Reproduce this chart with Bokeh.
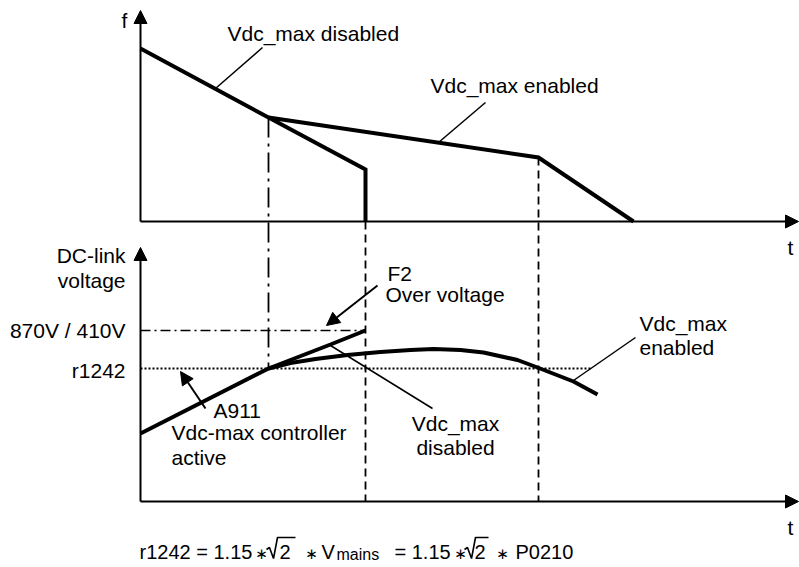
from bokeh.plotting import figure
from bokeh.models import Range1d, Arrow, NormalHead, Label
from bokeh.embed import file_html
from bokeh.resources import INLINE

# ---------------------------------------------------------------
# Data (time measured from the common origin of both panels)
# ---------------------------------------------------------------
# upper panel: output frequency f
f_disabled_t = [0, 128, 225, 225]
f_disabled_v = [173, 104, 52, 0]
f_enabled_t = [128, 398, 493]
f_enabled_v = [104, 64, 0]

# lower panel: DC-link voltage
v_rise_t = [0, 128]
v_rise_v = [68, 133]
v_disabled_t = [128, 190, 225]
v_disabled_v = [133, 157, 171]
v_enabled_t = [128, 150, 175, 207, 240, 270, 293, 320, 343, 377, 397, 433, 457]
v_enabled_v = [133, 138.5, 142.5, 146.5, 149.5, 151.5, 152.5, 151.5, 149, 141.5, 134, 120, 107]

V_TRIP = 171        # 870V / 410V
V_R1242 = 133       # r1242 threshold
T_ACTIVE = 128      # Vdc_max controller starts working
T_TRIP = 225        # F2 trip without controller
T_RAMP = 398        # end of extended ramp with controller

# ---------------------------------------------------------------
# Layout
# ---------------------------------------------------------------
W, H = 799, 567
ORIGIN_X = 140
TOP_BASE = 221      # canvas row of the f = 0 line
LOW_BASE = 501      # canvas row of the voltage = 0 line
PANEL_SHIFT = LOW_BASE - TOP_BASE
T_AXIS_END = 658
F_AXIS_TOP = 211
V_AXIS_TOP = 254
T_DOT_END = 450

FONT = "Liberation Sans"
BLACK = "#000000"

p = figure(width=W, height=H, output_backend="svg", toolbar_location=None,
           x_range=Range1d(-ORIGIN_X, W - ORIGIN_X),
           y_range=Range1d(TOP_BASE - H, TOP_BASE),
           x_axis_location=None, y_axis_location=None,
           min_border=0, outline_line_color=None,
           background_fill_color="white", border_fill_color="white")
p.grid.visible = False
p.extra_y_ranges = {"volt": Range1d(LOW_BASE - H, LOW_BASE), "page": Range1d(H, 0)}
p.extra_x_ranges = {"page": Range1d(0, W)}


def head(size=13):
    return NormalHead(size=size, fill_color=BLACK, line_color=BLACK, line_width=1)


# axes with arrow heads
p.add_layout(Arrow(end=head(), x_start=0, y_start=0, x_end=0, y_end=F_AXIS_TOP,
                   line_width=2, line_color=BLACK))
p.add_layout(Arrow(end=head(), x_start=0, y_start=0, x_end=T_AXIS_END, y_end=0,
                   line_width=2, line_color=BLACK))
p.add_layout(Arrow(end=head(), x_start=0, y_start=0, x_end=0, y_end=V_AXIS_TOP,
                   line_width=2, line_color=BLACK, y_range_name="volt"))
p.add_layout(Arrow(end=head(), x_start=0, y_start=0, x_end=T_AXIS_END, y_end=0,
                   line_width=2, line_color=BLACK, y_range_name="volt"))

# reference levels in the voltage panel
p.line([0, T_TRIP], [V_TRIP, V_TRIP], y_range_name="volt",
       line_color=BLACK, line_width=1.6, line_dash="10 4 2 4")
p.line([0, T_DOT_END], [V_R1242, V_R1242], y_range_name="volt",
       line_color=BLACK, line_width=1.8, line_dash="2 2")

# event markers running through both panels
p.line([T_ACTIVE, T_ACTIVE], [f_disabled_v[1] + PANEL_SHIFT, V_R1242], y_range_name="volt",
       line_color=BLACK, line_width=1.8, line_dash="20 6 3 6")
p.line([T_TRIP, T_TRIP], [PANEL_SHIFT, 0], y_range_name="volt",
       line_color=BLACK, line_width=1.8, line_dash="8 5")
p.line([T_RAMP, T_RAMP], [f_enabled_v[1] + PANEL_SHIFT, 0], y_range_name="volt",
       line_color=BLACK, line_width=1.8, line_dash="8 5")

# frequency curves
p.line(f_disabled_t, f_disabled_v, line_color=BLACK, line_width=4, line_join="miter")
p.line(f_enabled_t, f_enabled_v, line_color=BLACK, line_width=4, line_join="miter")

# DC-link voltage curves
p.line(v_rise_t, v_rise_v, y_range_name="volt", line_color=BLACK, line_width=4)
p.line(v_disabled_t, v_disabled_v, y_range_name="volt", line_color=BLACK, line_width=4)
p.line(v_enabled_t, v_enabled_v, y_range_name="volt", line_color=BLACK, line_width=4,
       line_join="round")

# leader lines for the curve labels (canvas coordinates)
leaders = [((262, 47), (215, 88)),
           ((485, 102), (438, 142)),
           ((330, 345), (432, 408)),
           ((573, 380), (635, 337))]
p.segment(x0=[a[0] for a, b in leaders], y0=[a[1] for a, b in leaders],
          x1=[b[0] for a, b in leaders], y1=[b[1] for a, b in leaders],
          x_range_name="page", y_range_name="page", line_color=BLACK, line_width=1.5)

# pointer arrows
for (xs, ys), (xe, ye) in [((377, 285), (326, 325)), ((205, 408), (180, 371))]:
    p.add_layout(Arrow(end=head(13), x_start=xs, y_start=ys, x_end=xe, y_end=ye,
                       line_width=2, line_color=BLACK,
                       x_range_name="page", y_range_name="page"))


def label(txt, x, y, align="left", size=21, font=FONT):
    p.add_layout(Label(x=x, y=y, text=txt, x_range_name="page", y_range_name="page",
                       text_font=font, text_font_size=f"{size}px", text_color=BLACK,
                       text_align=align, text_baseline="middle"))


label("f", 124, 20, "center")
label("t", 790, 247, "center")
label("t", 790, 527, "center")
label("Vdc_max disabled", 227, 33)
label("Vdc_max enabled", 430, 85)
label("DC-link", 125, 255, "right")
label("voltage", 125, 280, "right")
label("870V / 410V", 125, 330, "right")
label("r1242", 125, 370, "right")
label("F2", 387, 273)
label("Over voltage", 385, 294)
label("A911", 213, 410)
label("Vdc-max controller", 171, 432)
label("active", 171, 457)
label("Vdc_max", 455, 423, "center")
label("disabled", 455, 447, "center")
label("Vdc_max", 639, 323)
label("enabled", 639, 347)

# formula line: r1242 = 1.15 * sqrt(2) * V_mains = 1.15 * sqrt(2) * P0210
BL = 558            # text baseline row
MID = BL - 7        # em-box middle for 20px text
label("r1242 = 1.15", 139, MID, size=20)
label("2", 279, MID, size=20)
label("V", 321, MID, size=20)
label("mains", 336, MID + 3, size=16)
label("= 1.15", 394, MID, size=20)
label("2", 474, MID, size=20)
label("P0210", 515, MID, size=20)
for xc in (261, 311, 460, 502):
    label("\u2217", xc, BL - 5, "center", size=15, font="DejaVu Sans")

for x0, x1 in [(266, 295), (464, 488)]:
    p.line([x0, x0 + 3, x0 + 7, x0 + 11, x1], [BL - 9, BL - 11, BL, BL - 21, BL - 21],
           x_range_name="page", y_range_name="page", line_color=BLACK, line_width=1.6)

open("out.html", "w").write(file_html(p, INLINE))
